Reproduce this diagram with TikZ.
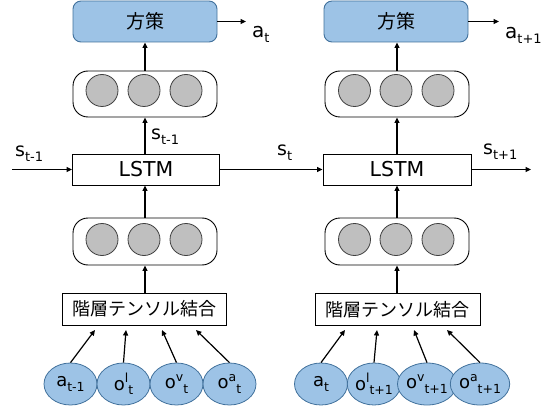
\documentclass[tikz,border=0pt]{standalone}
\usepackage{fontspec}
\setmainfont{DejaVu Sans}
\newfontfamily\jp{Noto Sans CJK JP}
\usetikzlibrary{arrows.meta,shapes.geometric}
\definecolor{bluefill}{HTML}{9DC3E6}
\definecolor{blueline}{HTML}{41719C}
\definecolor{graycirc}{HTML}{BFBFBF}
\newcommand\mysb[2]{\raisebox{-0.45ex}{\fontsize{#1}{#1}\selectfont #2}}
\newcommand\mysp[2]{\raisebox{0.75ex}{\fontsize{#1}{#1}\selectfont #2}}
\begin{document}
\begin{tikzpicture}[x=1pt,y=-1pt,
  arr/.style={line width=1.2pt,-{Triangle[length=5.5pt,width=5pt]}},
  policy/.style={draw=blueline,fill=bluefill,line width=0.9pt,rounded corners=8pt,minimum width=144pt,minimum height=41pt,inner sep=0pt,font=\jp\fontsize{19}{19}\selectfont},
  pill/.style={draw=black,line width=0.9pt,rounded corners=15pt,minimum width=144pt,minimum height=46pt,inner sep=0pt},
  unit/.style={circle,draw=black!75,fill=graycirc,line width=0.8pt,minimum size=32pt,inner sep=0pt},
  lstmbox/.style={draw=black,line width=0.9pt,minimum width=147pt,minimum height=31pt,inner sep=0pt,font=\fontsize{20.5}{20.5}\selectfont},
  hier/.style={draw=black,line width=0.9pt,minimum width=164pt,minimum height=32pt,inner sep=0pt,font=\jp\fontsize{18}{18}\selectfont},
  obs/.style={ellipse,draw=blueline,fill=bluefill,line width=0.8pt,minimum width=53pt,minimum height=42pt,inner sep=0pt,font=\fontsize{18}{18}\selectfont},
  lab/.style={anchor=base west,inner sep=0pt,font=\fontsize{19}{19}\selectfont}]
\useasboundingbox (0,0) rectangle (548,414);

% ---------- left column ----------
\node[policy] (pol1) at (145,21.5) {方策};
\node[pill] (pu1) at (145,94) {};
\node[unit] (u11) at (102,90.5) {};
\node[unit] (u12) at (144,90.5) {};
\node[unit] (u13) at (186,90.5) {};
\node[lstmbox] (lstm1) at (146,169.5) {LSTM};
\node[pill,minimum height=47pt] (pl1) at (145,241.5) {};
\node[unit] (v11) at (102,239.5) {};
\node[unit] (v12) at (144,239.5) {};
\node[unit] (v13) at (186,239.5) {};
\node[hier] (h1) at (144,309) {階層テンソル結合};
\node[obs] (e11) at (70.5,384) {a\mysb{12.5}{t-1}};
\node[obs] (e12) at (123.5,384) {o\mysp{12.5}{l}\mysb{12.5}{t}};
\node[obs] (e13) at (176.5,384) {o\mysp{12.5}{v}\mysb{12.5}{t}};
\node[obs] (e14) at (229.5,384) {o\mysp{12.5}{a}\mysb{12.5}{t}};

% ---------- right column ----------
\node[policy] (pol2) at (396,21.5) {方策};
\node[pill] (pu2) at (397,94) {};
\node[unit] (u21) at (354.5,90.5) {};
\node[unit] (u22) at (396,90.5) {};
\node[unit] (u23) at (438,90.5) {};
\node[lstmbox,minimum width=148pt] (lstm2) at (397,169.5) {LSTM};
\node[pill,minimum height=47pt] (pl2) at (397,241.5) {};
\node[unit] (v21) at (354.5,239.5) {};
\node[unit] (v22) at (396,239.5) {};
\node[unit] (v23) at (438,239.5) {};
\node[hier,minimum width=165pt] (h2) at (397.5,309.5) {階層テンソル結合};
\node[obs] (e21) at (321,384) {a\mysb{12.5}{t}};
\node[obs] (e22) at (374,384) {o\mysp{12.5}{l}\mysb{12.5}{t+1}};
\node[obs] (e23) at (427,384) {o\mysp{12.5}{v}\mysb{12.5}{t+1}};
\node[obs] (e24) at (480,384) {o\mysp{12.5}{a}\mysb{12.5}{t+1}};

% ---------- free ends ----------
\coordinate (in1) at (12,169.5);
\coordinate (out2) at (531,169.5);
\coordinate (act1) at (246,21.5);
\coordinate (act2) at (499,21.5);
\coordinate (t11) at (95,330);
\coordinate (t12) at (126,330);
\coordinate (t13) at (162,330);
\coordinate (t14) at (196,330);
\coordinate (t21) at (345,330);
\coordinate (t22) at (377,330);
\coordinate (t23) at (414,330);
\coordinate (t24) at (447,330);

% ---------- connectors ----------
\draw[arr] (pu1.north) -- (pol1.south -| pu1.north);
\draw[arr] (lstm1.north -| pu1.south) -- (pu1.south);
\draw[arr] (pl1.north) -- (lstm1.south -| pl1.north);
\draw[arr] (h1.north -| pl1.south) -- (pl1.south);
\draw[arr] (pol1.east) -- (act1);
\draw[arr] (in1) -- (lstm1.west);
\draw[arr] (lstm1.east) -- (lstm2.west);

\draw[arr] (pu2.north) -- (pol2.south -| pu2.north);
\draw[arr] (lstm2.north -| pu2.south) -- (pu2.south);
\draw[arr] (pl2.north) -- (lstm2.south -| pl2.north);
\draw[arr] (h2.north -| pl2.south) -- (pl2.south);
\draw[arr] (pol2.east) -- (act2);
\draw[arr] (lstm2.east) -- (out2);

\draw[arr] (e11.north) -- (t11);
\draw[arr] (e12.north) -- (t12);
\draw[arr] (e13.north) -- (t13);
\draw[arr] (e14.north) -- (t14);
\draw[arr] (e21.north) -- (t21);
\draw[arr] (e22.north) -- (t22);
\draw[arr] (e23.north) -- (t23);
\draw[arr] (e24.north) -- (t24);

% ---------- labels ----------
\node[lab] (ls1) at (15,157) {s\mysb{13}{t-1}};
\node[lab] (ls2) at (151,140) {s\mysb{13}{t-1}};
\node[lab] (ls3) at (277,156) {s\mysb{13}{t}};
\node[lab] (ls4) at (483,155) {s\mysb{13}{t+1}};
\node[lab,font=\fontsize{20}{20}\selectfont] (la1) at (252,38) {a\mysb{13}{t}};
\node[lab,font=\fontsize{20}{20}\selectfont] (la2) at (505,39) {a\mysb{13}{t+1}};
\end{tikzpicture}
\end{document}
